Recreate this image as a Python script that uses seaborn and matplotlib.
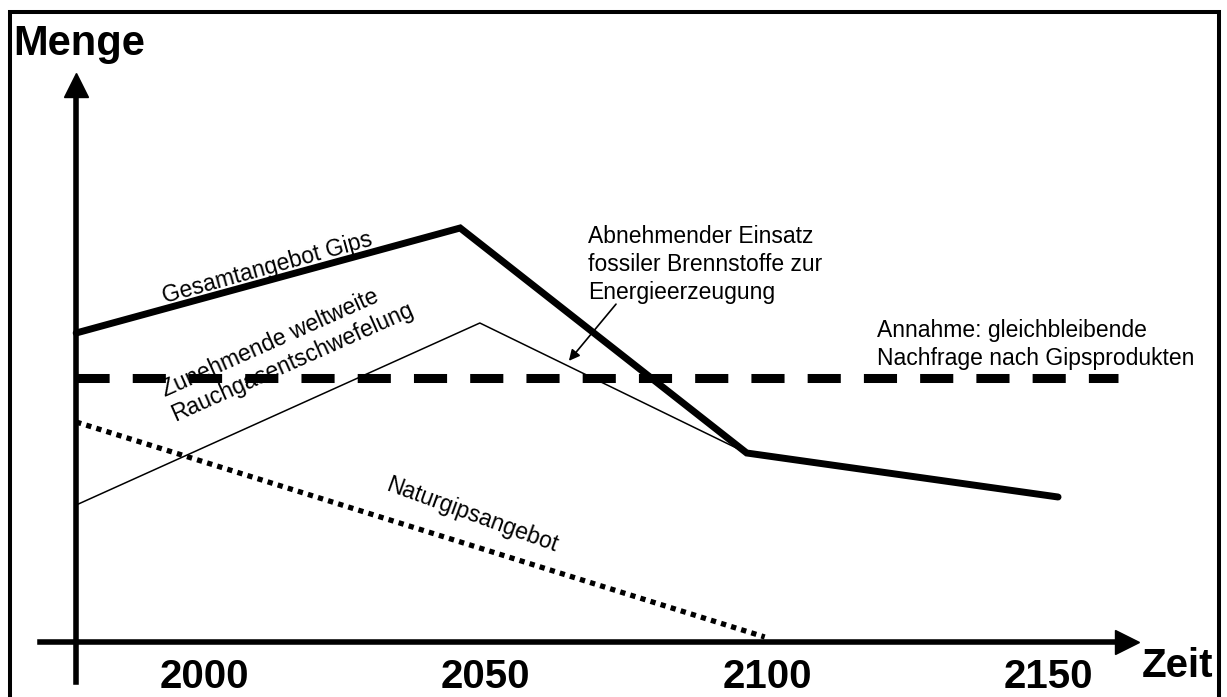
import numpy as np
import matplotlib
matplotlib.use("Agg")
import matplotlib.pyplot as plt
import seaborn as sns
from matplotlib.patches import Rectangle

sns.set_style("white")
plt.rcParams['font.family'] = ['Liberation Sans', 'DejaVu Sans']
plt.rcParams['text.color'] = 'black'

# schematic values (arbitrary units for "Menge")
years_total = [1977.3, 2045.5, 2096.4, 2151.7]
total_supply = [61.8, 82.8, 37.8, 29.0]

years_fgd = [1977.3, 2049.0, 2096.4]
fgd_supply = [27.4, 63.8, 37.8]

years_natural = [1977.3, 2099.6]
natural_supply = [44.0, 1.0]

years_demand = [1977.3, 2162.3]
demand = [52.8, 52.8]

tick_years = [2000, 2050, 2100, 2150]

fig = plt.figure(figsize=(12.27, 6.97), dpi=100)
ax = fig.add_axes([0, 0, 1, 1])
ax.set_xlim(1963.77, 2181.71)
ax.set_ylim(-11, 128.4)

sns.lineplot(x=years_total, y=total_supply, ax=ax, color='black', lw=5,
             sort=False, estimator=None, solid_joinstyle='miter')
sns.lineplot(x=years_fgd, y=fgd_supply, ax=ax, color='black', lw=1.1,
             sort=False, estimator=None)
sns.lineplot(x=years_natural, y=natural_supply, ax=ax, color='black', lw=3.8,
             sort=False, estimator=None, linestyle=(0, (1.0, 1.0)), dash_capstyle='butt')
sns.lineplot(x=years_demand, y=demand, ax=ax, color='black', lw=6.5,
             sort=False, estimator=None, linestyle=(0, (3.67, 2.56)), dash_capstyle='butt')

# axes with arrows
for s in ['top', 'right']:
    ax.spines[s].set_visible(False)
ax.spines['left'].set_position(('data', 1977.3))
ax.spines['left'].set_bounds(-8, 110)
ax.spines['bottom'].set_position(('data', 0))
ax.spines['bottom'].set_bounds(1970.9, 2162)
for s in ['left', 'bottom']:
    ax.spines[s].set_linewidth(4)
    ax.spines[s].set_color('black')
ax.plot([2163.9], [0], marker='>', ms=17, color='black', clip_on=False)
ax.plot([1977.3], [111.5], marker='^', ms=17, color='black', clip_on=False)

ax.set_yticks([])
ax.set_xticks(tick_years)
ax.set_xticklabels([str(t) for t in tick_years], fontsize=29, fontweight='bold')
ax.tick_params(axis='x', direction='inout', length=13.7, width=3.6, pad=4.5, colors='black')

# annotations
fs = 16.5
ax.text(2011.2, 74.8, 'Gesamtangebot Gips', fontsize=fs, rotation=15.5,
        ha='center', va='center', rotation_mode='anchor')
ax.text(2014.8, 58.5, 'Zunehmende weltweite\nRauchgasentschwefelung', fontsize=fs,
        rotation=24, ha='center', va='center', rotation_mode='anchor', multialignment='left')
ax.text(2047.6, 25.4, 'Naturgipsangebot', fontsize=fs, rotation=-20,
        ha='center', va='center', rotation_mode='anchor')
ax.text(2068.2, 83.4, 'Abnehmender Einsatz\nfossiler Brennstoffe zur\nEnergieerzeugung',
        fontsize=fs, ha='left', va='top', linespacing=1.27)
ax.text(2119.5, 64.6, 'Annahme: gleichbleibende\nNachfrage nach Gipsprodukten',
        fontsize=fs, ha='left', va='top', linespacing=1.27)
ax.annotate('', xy=(2064.5, 55.8), xytext=(2073.5, 68),
            arrowprops=dict(arrowstyle='-|>', color='black', lw=1.2, mutation_scale=16))

fig.text(13 / 1227, 1 - 55 / 697, 'Menge', fontsize=30, fontweight='bold', ha='left', va='baseline')
fig.text(1142 / 1227, 1 - 677 / 697, 'Zeit', fontsize=29, fontweight='bold', ha='left', va='baseline')

fig.add_artist(Rectangle((10 / 1227, -0.05), 1209 / 1227, 1.05 - 12 / 697,
                         transform=fig.transFigure, fill=False, lw=2.9, edgecolor='black'))

fig.savefig('out.png', dpi=100)
